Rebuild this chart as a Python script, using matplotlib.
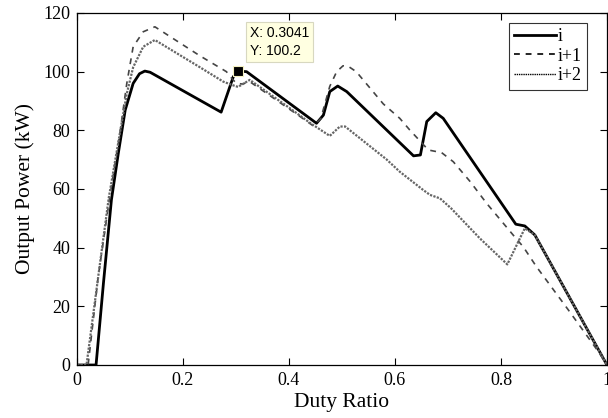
import matplotlib.pyplot as plt

# duty ratio / output power (kW)
d_i = [0, 0.036, 0.050, 0.065, 0.078, 0.091, 0.106, 0.118, 0.128, 0.138, 0.272, 0.295,
       0.3041, 0.320, 0.452, 0.465, 0.477, 0.492, 0.509, 0.635, 0.648, 0.660, 0.677,
       0.691, 0.828, 0.845, 0.864, 1.0]
p_i = [0, 0, 28, 56.3, 72.2, 86.9, 96.0, 99.3, 100.2, 99.8, 86.2, 98.3,
       100.2, 100.0, 82.4, 85.2, 93.2, 95.1, 93.2, 71.3, 71.6, 83.0, 86.0,
       84.1, 48.0, 47.4, 44.3, 0]

d_i1 = [0, 0.021, 0.040, 0.062, 0.081, 0.094, 0.106, 0.125, 0.147, 0.232, 0.282,
        0.293, 0.301, 0.312, 0.326, 0.421, 0.446, 0.460, 0.477, 0.490, 0.502, 0.512,
        0.527, 0.578, 0.609, 0.628, 0.663, 0.688, 0.710, 0.742, 0.773, 0.823,
        0.842, 0.867, 0.927, 0.984, 1.0]
p_i1 = [0, 0, 30, 57.4, 79.0, 96.0, 108.5, 113.6, 115.3, 105.4, 100.0,
        97.5, 96.0, 95.8, 96.6, 84.7, 81.5, 84.0, 95.0, 100.0, 102.0, 101.8,
        100.0, 89.0, 84.1, 80.1, 73.3, 72.4, 69.3, 62.5, 55.1, 44.3,
        40.3, 33.5, 18.8, 4.5, 0]

d_i2 = [0, 0.018, 0.040, 0.060, 0.080, 0.094, 0.106, 0.125, 0.147, 0.232, 0.276,
        0.292, 0.304, 0.315, 0.326, 0.402, 0.440, 0.477, 0.496, 0.506, 0.584,
        0.609, 0.653, 0.666, 0.685, 0.706, 0.760, 0.812, 0.845, 0.864, 1.0]
p_i2 = [0, 0, 30, 57.0, 78.0, 92.5, 101.5, 108.5, 110.8, 101.5, 96.6,
        95.5, 94.8, 96.0, 97.2, 87.5, 82.5, 78.1, 81.3, 81.3, 70.1,
        65.9, 59.7, 58.0, 56.8, 53.4, 43.2, 34.3, 46.6, 44.3, 0]

tip_x = 0.3041
tip_y = 100.2

serif = "Liberation Serif"

fig = plt.figure(figsize=(6.08, 4.18), dpi=100)
ax = fig.add_axes([0.1266, 0.1268, 0.8717, 0.8421])

ax.plot(d_i, p_i, color="black", lw=2.0, label="i")
ax.plot(d_i1, p_i1, color="#444444", lw=1.2, ls=(0, (3.5, 3.5)), label="i+1")
ax.plot(d_i2, p_i2, color="#666666", lw=1.6, ls=(0, (1, 0.6)), label="i+2")

ax.plot([tip_x], [tip_y], marker="s", ms=7, color="black", mec="#f4f0c0", mew=0.8)
ax.text(tip_x + 0.022, tip_y + 4.6, "X: 0.3041\nY: 100.2", family="Liberation Sans",
        fontsize=10, linespacing=1.35, va="bottom", ha="left",
        bbox=dict(boxstyle="square,pad=0.3", fc="#ffffe1", ec="#d8d8c0", lw=0.8))

ax.set_xlim(0, 1)
ax.set_ylim(0, 120)
ax.set_xticks([0, 0.2, 0.4, 0.6, 0.8, 1])
ax.set_xticklabels(["0", "0.2", "0.4", "0.6", "0.8", "1"])
ax.set_yticks(range(0, 121, 20))
ax.tick_params(direction="in", top=True, right=True, length=5, width=0.8,
               labelsize=13, pad=5)
for lab in ax.get_xticklabels() + ax.get_yticklabels():
    lab.set_family(serif)
for s in ax.spines.values():
    s.set_linewidth(0.9)

ax.set_xlabel("Duty Ratio", family=serif, fontsize=15.5, labelpad=3)
ax.set_ylabel("Output Power (kW)", family=serif, fontsize=15.5, labelpad=6)

leg = ax.legend(loc="upper right", bbox_to_anchor=(0.963, 0.973), prop={"family": serif, "size": 13},
                frameon=True, fancybox=False, edgecolor="black", handlelength=2.3,
                handletextpad=0.1, borderpad=0.3, labelspacing=0.15, borderaxespad=0)
leg.get_frame().set_linewidth(0.8)
leg.legend_handles[1].set_color("black")
leg.legend_handles[2].set_color("black")
leg.legend_handles[2].set_linewidth(1.0)

fig.savefig("out.png", dpi=100)
